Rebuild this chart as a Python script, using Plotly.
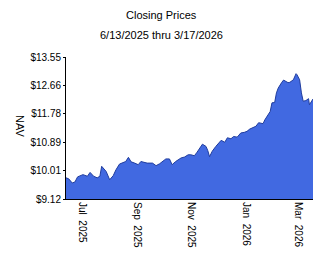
import plotly.graph_objects as go

dates = [
    "2025-06-13", "2025-06-16", "2025-06-20", "2025-06-23", "2025-06-26", "2025-07-02",
    "2025-07-07", "2025-07-10", "2025-07-14", "2025-07-18", "2025-07-21", "2025-07-23",
    "2025-07-28", "2025-08-01", "2025-08-05", "2025-08-08", "2025-08-12", "2025-08-15",
    "2025-08-19", "2025-08-22", "2025-08-25", "2025-08-29", "2025-09-02", "2025-09-05",
    "2025-09-10", "2025-09-12", "2025-09-18", "2025-09-22", "2025-09-26", "2025-09-30",
    "2025-10-03", "2025-10-07", "2025-10-10", "2025-10-14", "2025-10-17", "2025-10-20",
    "2025-10-24", "2025-10-28", "2025-10-31", "2025-11-04", "2025-11-07", "2025-11-10",
    "2025-11-13", "2025-11-17", "2025-11-19", "2025-11-21", "2025-11-24", "2025-11-28",
    "2025-12-01", "2025-12-04", "2025-12-08", "2025-12-11", "2025-12-15", "2025-12-18",
    "2025-12-22", "2025-12-26", "2025-12-30", "2026-01-02", "2026-01-05", "2026-01-08",
    "2026-01-12", "2026-01-15", "2026-01-20", "2026-01-22", "2026-01-26", "2026-01-27",
    "2026-01-28", "2026-01-30", "2026-02-02", "2026-02-04", "2026-02-06", "2026-02-10",
    "2026-02-12", "2026-02-17", "2026-02-19", "2026-02-23", "2026-02-26", "2026-02-27",
    "2026-03-02", "2026-03-04", "2026-03-06", "2026-03-09", "2026-03-12", "2026-03-13",
    "2026-03-16", "2026-03-17",
]
nav = [
    9.78, 9.75, 9.62, 9.65, 9.81, 9.88,
    9.83, 9.95, 9.83, 9.78, 9.83, 10.14,
    9.98, 9.72, 9.85, 10.03, 10.21, 10.24,
    10.29, 10.42, 10.28, 10.24, 10.19, 10.29,
    10.27, 10.24, 10.24, 10.16, 10.22, 10.32,
    10.37, 10.37, 10.19, 10.29, 10.35, 10.40,
    10.43, 10.50, 10.50, 10.47, 10.58, 10.71,
    10.83, 10.76, 10.63, 10.44, 10.61, 10.76,
    10.86, 10.95, 10.89, 11.03, 11.00, 11.07,
    11.05, 11.18, 11.20, 11.23, 11.30, 11.34,
    11.39, 11.50, 11.47, 11.59, 11.75, 11.78,
    11.85, 12.12, 12.13, 12.43, 12.58, 12.76,
    12.83, 12.75, 12.76, 12.84, 13.03, 13.00,
    12.84, 12.43, 12.17, 12.19, 12.25, 12.06,
    12.17, 12.24,
]

y_ticks = [9.12, 10.006, 10.892, 11.778, 12.664, 13.55]
y_labels = ["$9.12", "$10.01", "$10.89", "$11.78", "$12.66", "$13.55"]
x_ticks = ["2025-07-01", "2025-09-01", "2025-11-01", "2026-01-01", "2026-03-01"]
x_labels = ["Jul  2025", "Sep  2025", "Nov  2025", "Jan  2026", "Mar  2026"]

font = "Liberation Sans, Arial, sans-serif"

fig = go.Figure()
fig.add_trace(go.Scatter(
    x=dates, y=nav, mode="lines", fill="tozeroy",
    line=dict(color="#1f3c9e", width=1),
    fillcolor="#4169E1",
    hoverinfo="skip",
))

fig.update_layout(
    width=324, height=267,
    margin=dict(l=66, r=11, t=57, b=68),
    paper_bgcolor="white", plot_bgcolor="white",
    showlegend=False,
    font=dict(family=font, size=10, color="black"),
    xaxis=dict(
        range=["2025-06-13", "2026-03-17"],
        tickvals=x_ticks, ticktext=x_labels, tickangle=90,
        showgrid=False, zeroline=False,
        showline=True, linecolor="black", linewidth=1,
        ticks="", tickfont=dict(size=10),
    ),
    yaxis=dict(
        range=[9.12, 13.55],
        tickvals=y_ticks, ticktext=y_labels,
        showgrid=False, zeroline=False,
        showline=True, linecolor="black", linewidth=1,
        ticks="outside", ticklen=2, tickcolor="black",
        tickfont=dict(size=10),
    ),
    annotations=[
        dict(text="Closing Prices", x=0.5, y=15, xref="paper", yref="paper",
             showarrow=False, font=dict(size=11)),
    ],
)

fig.layout.annotations = []
fig.add_annotation(text="Closing Prices", xref="paper", yref="paper",
                   x=(161 - 66) / 247, y=1 + (57 - 15) / 142,
                   showarrow=False, font=dict(size=11), xanchor="center", yanchor="middle")
fig.add_annotation(text="6/13/2025 thru 3/17/2026", xref="paper", yref="paper",
                   x=(161 - 66) / 247, y=1 + (57 - 35) / 142,
                   showarrow=False, font=dict(size=11), xanchor="center", yanchor="middle")
fig.add_annotation(text="NAV", xref="paper", yref="paper",
                   x=(20 - 66) / 247, y=(199 - 126) / 142, textangle=90,
                   showarrow=False, font=dict(size=11), xanchor="center", yanchor="middle")

fig.write_html("out.html")
